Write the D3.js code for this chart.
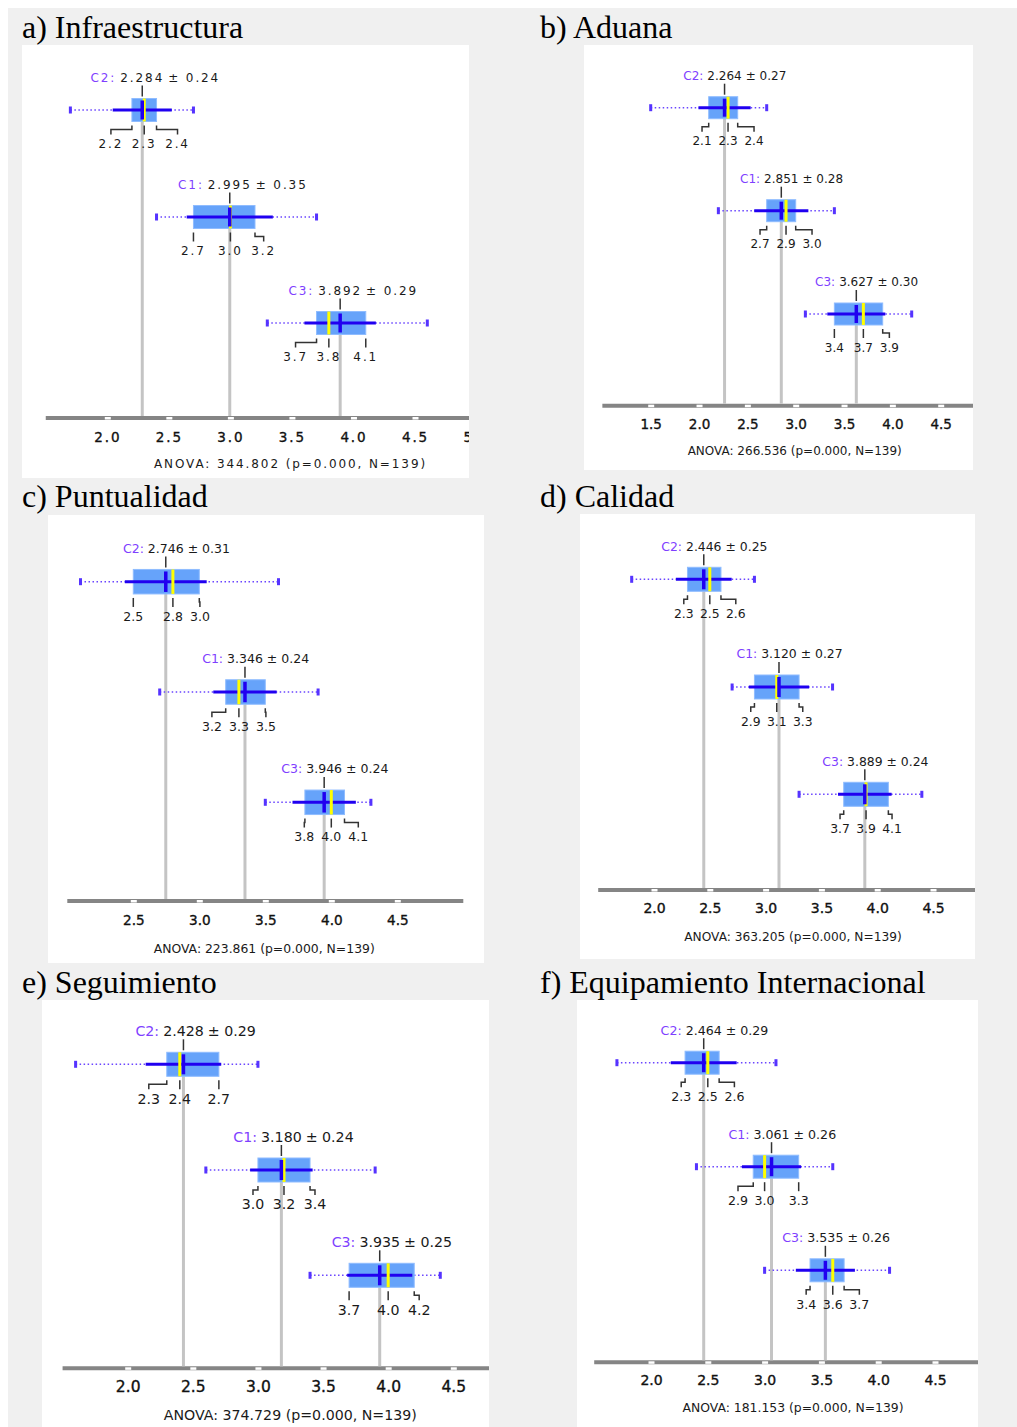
<!DOCTYPE html>
<html>
<head>
<meta charset="utf-8">
<script src="https://cdn.jsdelivr.net/npm/d3@7"></script>
<style>
  body { margin: 0; background: #fff; }
  svg { display: block; font-family: "DejaVu Sans", Verdana, sans-serif; }
</style>
</head>
<body>
<svg id="drawspace" width="1017" height="1427"></svg>
<script>
// ---- data ----
const panelTitles = ["a) Infraestructura", "b) Aduana", "c) Puntualidad", "d) Calidad", "e) Seguimiento", "f) Equipamiento Internacional"];
const groupNames = ["C2", "C1", "C3"];

// one row per panel, one entry per group (C2, C1, C3)
const means   = [[2.284, 2.995, 3.892], [2.264, 2.851, 3.627], [2.746, 3.346, 3.946], [2.446, 3.120, 3.889], [2.428, 3.180, 3.935], [2.464, 3.061, 3.535]];
const sds     = [[0.24, 0.35, 0.29], [0.27, 0.28, 0.30], [0.31, 0.24, 0.24], [0.25, 0.27, 0.24], [0.29, 0.24, 0.25], [0.29, 0.26, 0.26]];
const mins    = [[1.7, 2.4, 3.3], [1.5, 2.2, 3.1], [2.1, 2.7, 3.5], [1.8, 2.7, 3.3], [1.6, 2.6, 3.4], [1.7, 2.4, 3.0]];
const q1s     = [[2.2, 2.7, 3.7], [2.1, 2.7, 3.4], [2.5, 3.2, 3.8], [2.3, 2.9, 3.7], [2.3, 3.0, 3.7], [2.3, 2.9, 3.4]];
const medians = [[2.3, 3.0, 3.8], [2.3, 2.9, 3.7], [2.8, 3.3, 4.0], [2.5, 3.1, 3.9], [2.4, 3.2, 4.0], [2.5, 3.0, 3.6]];
const q3s     = [[2.4, 3.2, 4.1], [2.4, 3.0, 3.9], [3.0, 3.5, 4.1], [2.6, 3.3, 4.1], [2.7, 3.4, 4.2], [2.6, 3.3, 3.7]];
const maxs    = [[2.7, 3.7, 4.6], [2.7, 3.4, 4.2], [3.6, 3.9, 4.3], [2.9, 3.6, 4.4], [3.0, 3.9, 4.4], [3.1, 3.6, 4.1]];

const anovaF = ["344.802", "266.536", "223.861", "363.205", "374.729", "181.153"];
const pValue = "0.000";
const sampleN = 139;

const tickValues = [
  [2.0, 2.5, 3.0, 3.5, 4.0, 4.5, 5.0],
  [1.5, 2.0, 2.5, 3.0, 3.5, 4.0, 4.5],
  [2.5, 3.0, 3.5, 4.0, 4.5],
  [2.0, 2.5, 3.0, 3.5, 4.0, 4.5],
  [2.0, 2.5, 3.0, 3.5, 4.0, 4.5],
  [2.0, 2.5, 3.0, 3.5, 4.0, 4.5]
];

// ---- layout of each panel (pixels) ----
const layout = [
  { title: [22, 38],  rect: [22, 45, 447, 433],   ref: [2, 107.3, 4.5, 415],   axisFrom: 1.5, axisTo: null, axisY: 418,    tickY: 437,    anova: [290.5, 464],   rows: [110, 217, 323],        boxH: 23,   fs: 12,   tfs: 13.5, afs: 12,   ls: 1.9, gap: 33.3 },
  { title: [540, 38], rect: [584, 45, 389, 425],  ref: [1.5, 650.7, 4.5, 940.7], axisFrom: 1.0, axisTo: null, axisY: 405.7, tickY: 424,    anova: [794.7, 451],   rows: [107.7, 210.7, 314],    boxH: 22,   fs: 12,   tfs: 13.5, afs: 12,   ls: 0,   gap: 26 },
  { title: [22, 507], rect: [48, 515, 436, 448],  ref: [2.5, 133.3, 4.5, 397.3], axisFrom: 2.0, axisTo: 5.0,  axisY: 901,   tickY: 920,    anova: [264.2, 949],   rows: [581.7, 692, 802.3],    boxH: 24.5, fs: 12.5, tfs: 13.6, afs: 12.4, ls: 0,   gap: 27 },
  { title: [540, 507], rect: [580, 514, 395, 445], ref: [2, 654, 4.5, 933],     axisFrom: 1.5, axisTo: null, axisY: 890,   tickY: 908.3,  anova: [793, 936.7],   rows: [579.3, 687, 794.3],    boxH: 24,   fs: 12.4, tfs: 14,   afs: 12.2, ls: 0,   gap: 26 },
  { title: [22, 993], rect: [42, 1000, 447, 427], ref: [2, 127.7, 4.5, 453.3],   axisFrom: 1.5, axisTo: null, axisY: 1368.3, tickY: 1386.7, anova: [290.3, 1415], rows: [1064.3, 1170, 1275.3], boxH: 24,   fs: 14.2, tfs: 15.5, afs: 14.2, ls: 0,   gap: 31 },
  { title: [540, 993], rect: [577, 1000, 401, 427], ref: [2, 651, 4.5, 935],    axisFrom: 1.5, axisTo: null, axisY: 1362.3, tickY: 1380,  anova: [793, 1407.3],  rows: [1062.7, 1166.7, 1270.3], boxH: 23, fs: 12.6, tfs: 14,   afs: 12.4, ls: 0,   gap: 26.6 }
];

const fmt1 = d3.format(".1f");
const fmt3 = d3.format(".3f");
const fmt2 = d3.format(".2f");

let drawSpace = d3.select("#drawspace");

// gray backdrop
drawSpace.append("rect")
  .attr("x", 8).attr("y", 8).attr("width", 1009).attr("height", 1419)
  .attr("fill", "#f0f0f0");

layout.forEach((L, p) => {
  const [rx, ry, rw, rh] = L.rect;

  drawSpace.append("text")
    .attr("x", L.title[0]).attr("y", L.title[1])
    .attr("font-family", "'Liberation Serif', 'Times New Roman', serif")
    .attr("font-size", 32)
    .attr("fill", "#000")
    .text(panelTitles[p]);

  drawSpace.append("rect")
    .attr("x", rx).attr("y", ry).attr("width", rw).attr("height", rh)
    .attr("fill", "#fff");

  drawSpace.append("clipPath").attr("id", "clip" + p)
    .append("rect").attr("x", rx).attr("y", ry).attr("width", rw).attr("height", rh);

  let g = drawSpace.append("g")
    .attr("clip-path", `url(#clip${p})`)
    .style("letter-spacing", L.ls + "px");

  let x = d3.scaleLinear().domain([L.ref[0], L.ref[2]]).range([L.ref[1], L.ref[3]]);

  // axis
  let axisG = g.append("g")
    .attr("transform", `translate(0,${L.axisY})`)
    .call(d3.axisBottom(x).tickValues(tickValues[p]).tickSize(0).tickFormat(fmt1));
  axisG.attr("font-family", null).attr("font-size", null);
  axisG.select(".domain").remove();
  axisG.insert("line", ":first-child")
    .attr("x1", x(L.axisFrom))
    .attr("x2", L.axisTo === null ? rx + rw : x(L.axisTo))
    .attr("stroke", "#858585")
    .attr("stroke-width", 4);
  axisG.selectAll(".tick").append("rect")
    .attr("x", -3).attr("y", -1).attr("width", 6).attr("height", 2.5)
    .attr("fill", "#fff");
  axisG.selectAll(".tick text")
    .attr("y", L.tickY - L.axisY).attr("dy", "0.35em")
    .attr("font-size", L.tfs)
    .attr("fill", "#111")
    .attr("stroke", "#111").attr("stroke-width", 0.35);

  // gray mean lines down to the axis
  groupNames.forEach((name, i) => {
    g.append("line")
      .attr("x1", x(means[p][i])).attr("x2", x(means[p][i]))
      .attr("y1", L.rows[i]).attr("y2", L.axisY - 2)
      .attr("stroke", "#c4c4c4")
      .attr("stroke-width", 3);
  });

  groupNames.forEach((name, i) => {
    const yc = L.rows[i];
    const top = yc - L.boxH / 2;
    const bottom = yc + L.boxH / 2;
    const mx = x(means[p][i]);

    // min-max dotted line with end caps
    g.append("line")
      .attr("x1", x(mins[p][i])).attr("x2", x(maxs[p][i]))
      .attr("y1", yc).attr("y2", yc)
      .attr("stroke", "#6a45ff").attr("stroke-width", 1.5)
      .attr("stroke-dasharray", "1.5,2.5");
    [mins[p][i], maxs[p][i]].forEach(v => {
      g.append("rect")
        .attr("x", x(v) - 1.5).attr("y", yc - 3.5).attr("width", 3).attr("height", 7)
        .attr("fill", "#5533ff");
    });

    // box Q1..Q3
    g.append("rect")
      .attr("x", x(q1s[p][i])).attr("y", top)
      .attr("width", x(q3s[p][i]) - x(q1s[p][i])).attr("height", L.boxH)
      .attr("fill", "#66a3fa").attr("stroke", "#8fbcff").attr("stroke-width", 1);

    // mean +- sd
    g.append("line")
      .attr("x1", x(means[p][i] - sds[p][i])).attr("x2", x(means[p][i] + sds[p][i]))
      .attr("y1", yc).attr("y2", yc)
      .attr("stroke", "#2000f0").attr("stroke-width", 3);

    // median
    g.append("line")
      .attr("x1", x(medians[p][i])).attr("x2", x(medians[p][i]))
      .attr("y1", top).attr("y2", bottom)
      .attr("stroke", "#ffff00").attr("stroke-width", 3);

    // mean marker
    g.append("line")
      .attr("x1", mx).attr("x2", mx)
      .attr("y1", top + 2).attr("y2", bottom - 2)
      .attr("stroke", "#2000f0").attr("stroke-width", 3.5);

    // tick from the label to the box
    g.append("line")
      .attr("x1", mx).attr("x2", mx)
      .attr("y1", top - 13).attr("y2", top - 2)
      .attr("stroke", "#333").attr("stroke-width", 1.5);

    // label: "C2: mean ± sd", with the mean centred on the mean
    const ly = top - 21;
    let meanText = g.append("text")
      .attr("x", mx).attr("y", ly).attr("dy", "0.35em")
      .attr("text-anchor", "middle")
      .attr("font-size", L.fs).attr("fill", "#1a1a1a")
      .text(fmt3(means[p][i]));
    const w = meanText.node().getComputedTextLength();
    g.append("text")
      .attr("x", mx - w / 2 - 4).attr("y", ly).attr("dy", "0.35em")
      .attr("text-anchor", "end")
      .attr("font-size", L.fs).attr("fill", "#7f3fff")
      .text(name + ":");
    g.append("text")
      .attr("x", mx + w / 2 + 4).attr("y", ly).attr("dy", "0.35em")
      .attr("text-anchor", "start")
      .attr("font-size", L.fs).attr("fill", "#1a1a1a")
      .text("\u00b1 " + fmt2(sds[p][i]));

    // quantile labels with connectors
    const medX = x(medians[p][i]);
    const qx = [x(q1s[p][i]), medX, x(q3s[p][i])];
    const lx = [Math.min(qx[0], medX - L.gap), medX, Math.max(qx[2], medX + L.gap)];
    const qv = [q1s[p][i], medians[p][i], q3s[p][i]];
    const y0 = bottom + 4, ym = bottom + 8, y1 = bottom + 13;
    qx.forEach((vx, k) => {
      const pts = Math.abs(lx[k] - vx) < 0.5
        ? [[vx, y0], [vx, y1]]
        : [[vx, y0], [vx, ym], [lx[k], ym], [lx[k], y1]];
      g.append("path")
        .attr("d", d3.line()(pts))
        .attr("fill", "none")
        .attr("stroke", "#333").attr("stroke-width", 1.5);
      g.append("text")
        .attr("x", lx[k]).attr("y", bottom + 22.5).attr("dy", "0.35em")
        .attr("text-anchor", "middle")
        .attr("font-size", L.fs).attr("fill", "#1a1a1a")
        .text(fmt1(qv[k]));
    });
  });

  // ANOVA line
  g.append("text")
    .attr("x", L.anova[0]).attr("y", L.anova[1]).attr("dy", "0.35em")
    .attr("text-anchor", "middle")
    .attr("font-size", L.afs).attr("fill", "#1a1a1a")
    .text(`ANOVA: ${anovaF[p]} (p=${pValue}, N=${sampleN})`);
});
</script>
</body>
</html>
